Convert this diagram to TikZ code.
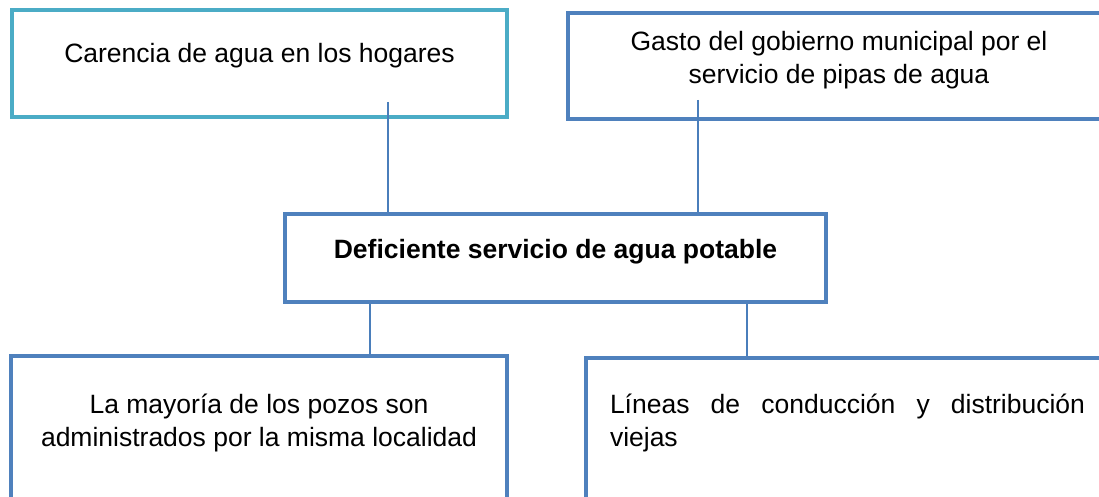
\documentclass[tikz,border=0pt]{standalone}
\usepackage{fontspec}
\setmainfont{Liberation Sans}
\usetikzlibrary{positioning}

\definecolor{accblue}{HTML}{4F81BD}
\definecolor{acccyan}{HTML}{4BACC6}
\definecolor{linkblue}{HTML}{4A7EBB}

\begin{document}
\begin{tikzpicture}[x=1pt, y=-1pt,
	box/.style={draw=accblue, line width=4pt, inner sep=0pt, anchor=north west, align=center,
		font=\fontsize{26.5}{33}\selectfont},
	link/.style={draw=linkblue, line width=2pt}]
\useasboundingbox (0,0) rectangle (1099,497);
\clip (0,0) rectangle (1099,497);

% effects
\node[box, draw=acccyan, minimum width=495pt, text height=53pt, text depth=54pt] (carencia) at (10,8) {Carencia de agua en los hogares};
\node[box, minimum width=542pt, text height=70.5pt, text depth=35pt] (gasto) at (566,11.5) {Gasto del gobierno municipal por el\\servicio de pipas de agua};

% problem
\node[box, minimum width=541pt, text height=44pt, text depth=44pt] (deficit) at (283,212) {\bfseries Deficiente servicio de agua potable};

% causes
\node[box, minimum width=496pt, text height=90pt, text depth=66pt] (pozos) at (9,354) {La mayoría de los pozos son\\administrados por la misma localidad};
\node[box, inner xsep=24pt, text width=475pt, align=justify, text height=55pt, text depth=99pt] (lineas) at (584,356)
	{\hyphenpenalty=10000\relax\tolerance=10000\relax Líneas de conducción y distribución viejas\par};

\coordinate (u1) at (388,102);
\coordinate (u2) at (698,100);
\coordinate (d1) at (370,300);
\coordinate (d2) at (747,300);
\draw[link] (u1) -- (u1 |- deficit.north);
\draw[link] (u2) -- (u2 |- deficit.north);
\draw[link] (d1 |- deficit.south) -- (d1 |- pozos.north);
\draw[link] (d2 |- deficit.south) -- (d2 |- lineas.north);

\end{tikzpicture}
\end{document}
